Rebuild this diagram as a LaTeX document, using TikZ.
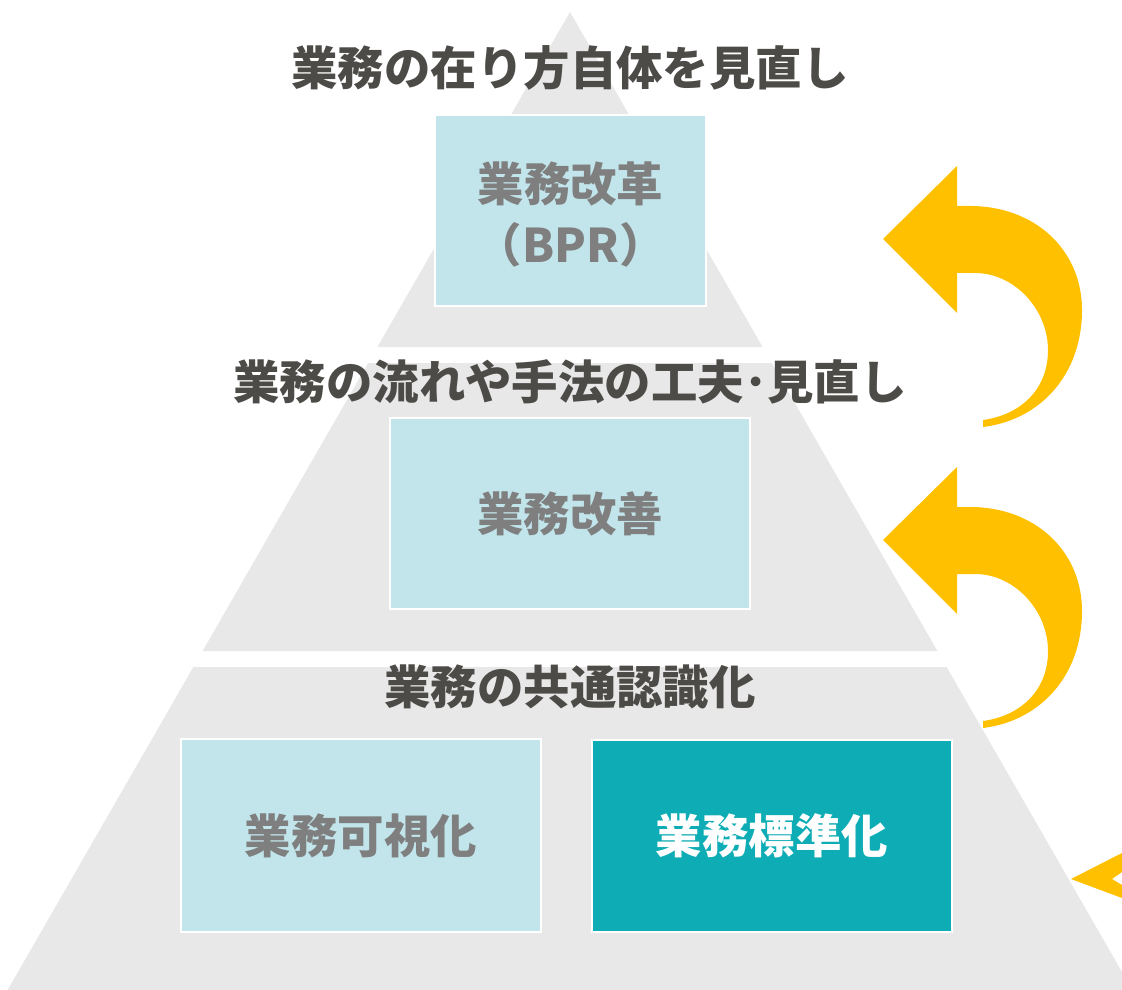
\documentclass[tikz,border=0pt]{standalone}
\usepackage{fontspec}
\setmainfont{Noto Sans CJK JP}

\definecolor{tiergray}{HTML}{E8E8E8}
\definecolor{boxcyan}{HTML}{C1E5EB}
\definecolor{boxteal}{HTML}{0EACB5}
\definecolor{labelgray}{HTML}{4D4B48}
\definecolor{boxtext}{HTML}{7F7F7F}
\definecolor{arrowyellow}{HTML}{FFC000}

\begin{document}
\begin{tikzpicture}[x=0.025cm, y=-0.025cm,
    tier/.style={fill=tiergray},
    box/.style={draw=white, line width=1.8pt, fill=boxcyan, text=boxtext, align=center,
        font=\fontsize{33}{44}\selectfont\bfseries},
    stdbox/.style={box, fill=boxteal, text=white},
    boxsize/.style 2 args={minimum width=#1*0.025cm, minimum height=#2*0.025cm},
    tierlabel/.style={text=labelgray, font=\fontsize{33}{44}\selectfont\bfseries},
    loopback/.style={fill=arrowyellow}]

    \clip (0,0) rectangle (1122,990);

    % pyramid tiers
    \fill[tier] (570,12) -- (762.6,347) -- (377.4,347) -- cycle;
    \fill[tier] (368.2,363) -- (771.8,363) -- (937.4,651) -- (202.6,651) -- cycle;
    \fill[tier] (193.4,667) -- (946.6,667) -- (1132.4,990) -- (7.6,990) -- cycle;

    \draw(570,68) node[tierlabel] (toplabel) {業務の在り方自体を見直し};
    \draw(570,382) node[tierlabel] (midlabel) {業務の流れや手法の工夫･見直し};
    \draw(570,687) node[tierlabel] (baselabel) {業務の共通認識化};

    \draw(570.5,210.5) node[box, boxsize={271}{191}] (bpr) {\\[-10pt]業務改革\\（BPR）};
    \draw(570,513.5) node[box, boxsize={360}{191}] (kaizen) {業務改善};
    \draw(361,835.5) node[box, boxsize={360}{193}] (kashika) {業務可視化};
    \draw(772,836) node[stdbox, boxsize={360}{192}] (hyojunka) {業務標準化};

    % curved arrows on the right
    \foreach \dy in {0,301}
        \fill[loopback, shift={(0,\dy)}] (983,420) .. controls (1020,415) and (1048,390) .. (1048,350)
            .. controls (1048,310) and (1015,273) .. (975,273) -- (957,273) -- (957,313) -- (883,239)
            -- (957,166) -- (957,206) -- (970,206) .. controls (1035,206) and (1082,250) .. (1082,310)
            .. controls (1082,375) and (1040,420) .. (983,427) -- cycle;
    \fill[loopback] (1071,879) -- (1122,853) -- (1122,872) -- (1112,879) -- (1122,885) -- (1122,898) -- cycle;

\end{tikzpicture}
\end{document}
